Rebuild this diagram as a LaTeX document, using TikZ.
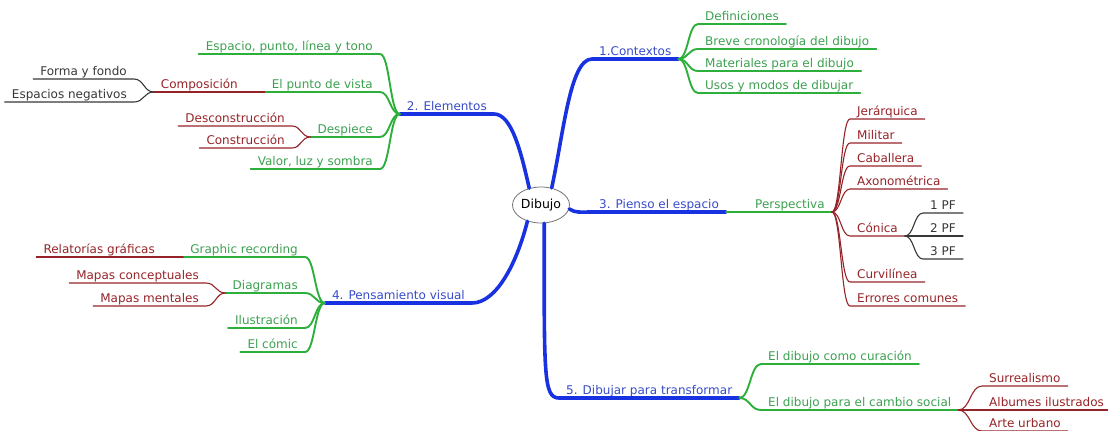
\documentclass[tikz,border=0pt]{standalone}
\usepackage{fontspec}
\setmainfont{DejaVu Sans}
\usetikzlibrary{calc,shapes.geometric}
\definecolor{mapblue}{RGB}{25,50,225}
\definecolor{bluetext}{RGB}{55,75,200}
\definecolor{mapgreen}{RGB}{45,175,60}
\definecolor{greentext}{RGB}{60,160,80}
\definecolor{mapred}{RGB}{150,35,40}
\definecolor{mapgrey}{RGB}{55,55,55}
\begin{document}
\begin{tikzpicture}[x=1bp, y=1bp, line cap=round, line join=round,
  topic/.style={anchor=south west, inner xsep=7bp, inner ysep=0.5bp, text height=9.5bp, text depth=2.5bp, font=\fontsize{12bp}{14bp}\selectfont},
  lside/.style={anchor=south east},
  main/.style={topic, text=bluetext},
  sub/.style={topic, text=greentext},
  leaf/.style={topic, text=mapred},
  tip/.style={topic, text=mapgrey},
  bluline/.style={draw=mapblue, line width=3.6bp},
  grnline/.style={draw=mapgreen, line width=1.9bp},
  redline/.style={draw=mapred, line width=1.1bp},
  greyline/.style={draw=mapgrey, line width=1.1bp},
  forkcurve/.style={to path={.. controls ($(\tikztostart)!0.5!(\tikztotarget|-\tikztostart)$) and ($(\tikztotarget)!0.5!(\tikztostart|-\tikztotarget)$) .. (\tikztotarget)}}]
  \useasboundingbox (0,0) rectangle (1108,-430);
  \node[ellipse, draw=black!55, line width=0.8bp, fill=white, minimum width=57bp, minimum height=36bp, inner sep=0pt, font=\fontsize{12.5bp}{14bp}\selectfont] (root) at (541,-205) {Dibujo};
  \node[main] (ctx) at (592,-59) {1.Contextos};
  \node[sub] (def) at (698,-24) {Definiciones};
  \node[sub] (cron) at (698,-49) {Breve cronología del dibujo};
  \node[sub] (mat) at (698,-71) {Materiales para el dibujo};
  \node[sub] (usos) at (698,-93) {Usos y modos de dibujar};
  \node[main, lside] (elem) at (494,-114) {2. Elementos};
  \node[sub, lside] (esppt) at (380,-54) {Espacio, punto, línea y tono};
  \node[sub, lside] (vista) at (380,-92) {El punto de vista};
  \node[leaf, lside] (comp) at (245,-92) {Composición};
  \node[tip, lside] (forma) at (134,-79) {Forma y fondo};
  \node[tip, lside] (espneg) at (134,-102) {Espacios negativos};
  \node[sub, lside] (desp) at (380,-137) {Despiece};
  \node[leaf, lside] (decon) at (292,-126) {Desconstrucción};
  \node[leaf, lside] (constr) at (292,-148) {Construcción};
  \node[sub, lside] (valor) at (380,-169) {Valor, luz y sombra};
  \node[main] (esp) at (592,-212) {3. Pienso el espacio};
  \node[sub] (persp) at (748,-212) {Perspectiva};
  \node[leaf] (jer) at (850,-119) {Jerárquica};
  \node[leaf] (mil) at (850,-143) {Militar};
  \node[leaf] (cab) at (850,-166) {Caballera};
  \node[leaf] (axo) at (850,-189) {Axonométrica};
  \node[leaf] (con) at (850,-236) {Cónica};
  \node[tip] (pf1) at (923,-213) {1 PF};
  \node[tip] (pf2) at (923,-236) {2 PF};
  \node[tip] (pf3) at (923,-259) {3 PF};
  \node[leaf] (curv) at (850,-282) {Curvilínea};
  \node[leaf] (err) at (850,-306) {Errores comunes};
  \node[main, lside] (pens) at (472,-303) {4. Pensamiento visual};
  \node[sub, lside] (graph) at (305,-257) {Graphic recording};
  \node[leaf, lside] (rel) at (162,-257) {Relatorías gráficas};
  \node[sub, lside] (diag) at (305,-293) {Diagramas};
  \node[leaf, lside] (mconc) at (206,-283) {Mapas conceptuales};
  \node[leaf, lside] (mment) at (206,-306) {Mapas mentales};
  \node[sub, lside] (ilus) at (305,-328) {Ilustración};
  \node[sub, lside] (comic) at (305,-352) {El cómic};
  \node[main] (trans) at (559,-398) {5. Dibujar para transformar};
  \node[sub] (cur) at (761,-364) {El dibujo como curación};
  \node[sub] (soc) at (761,-410) {El dibujo para el cambio social};
  \node[leaf] (sur) at (982,-386) {Surrealismo};
  \node[leaf] (alb) at (982,-410) {Albumes ilustrados};
  \node[leaf] (arte) at (982,-431) {Arte urbano};
  \path[bluline] (root.58) .. controls +(12,55) and +(-22,0) .. (ctx.south west) -- (ctx.south east);
  \path[bluline] (root.125) .. controls +(-8,35) and +(18,0) .. (elem.south east) -- (elem.south west);
  \path[bluline] (root.-8) .. controls +(6,-4) and +(-12,0) .. (esp.south west) -- (esp.south east);
  \path[bluline] (root.230) .. controls +(-10,-40) and +(25,0) .. (pens.south east) -- (pens.south west);
  \path[bluline] (root.-80) .. controls +(0,-150) and +(-16,0) .. (trans.south west) -- (trans.south east);
  \path[grnline] (ctx.south east) to[forkcurve] (def.south west) -- (def.south east);
  \path[grnline] (ctx.south east) to[forkcurve] (cron.south west) -- (cron.south east);
  \path[grnline] (ctx.south east) to[forkcurve] (mat.south west) -- (mat.south east);
  \path[grnline] (ctx.south east) to[forkcurve] (usos.south west) -- (usos.south east);
  \path[grnline] (elem.south west) to[forkcurve] (esppt.south east) -- (esppt.south west);
  \path[grnline] (elem.south west) to[forkcurve] (vista.south east) -- (vista.south west);
  \path[grnline] (elem.south west) to[forkcurve] (desp.south east) -- (desp.south west);
  \path[grnline] (elem.south west) to[forkcurve] (valor.south east) -- (valor.south west);
  \path[redline] (vista.south west) to[forkcurve] (comp.south east) -- (comp.south west);
  \path[greyline] (comp.south west) to[forkcurve] (forma.south east) -- (forma.south west);
  \path[greyline] (comp.south west) to[forkcurve] (espneg.south east) -- (espneg.south west);
  \path[redline] (desp.south west) to[forkcurve] (decon.south east) -- (decon.south west);
  \path[redline] (desp.south west) to[forkcurve] (constr.south east) -- (constr.south west);
  \path[grnline] (esp.south east) to[forkcurve] (persp.south west) -- (persp.south east);
  \path[redline] (persp.south east) to[forkcurve] (jer.south west) -- (jer.south east);
  \path[redline] (persp.south east) to[forkcurve] (mil.south west) -- (mil.south east);
  \path[redline] (persp.south east) to[forkcurve] (cab.south west) -- (cab.south east);
  \path[redline] (persp.south east) to[forkcurve] (axo.south west) -- (axo.south east);
  \path[redline] (persp.south east) to[forkcurve] (con.south west) -- (con.south east);
  \path[redline] (persp.south east) to[forkcurve] (curv.south west) -- (curv.south east);
  \path[redline] (persp.south east) to[forkcurve] (err.south west) -- (err.south east);
  \path[greyline] (con.south east) to[forkcurve] (pf1.south west) -- (pf1.south east);
  \path[greyline] (con.south east) to[forkcurve] (pf2.south west) -- (pf2.south east);
  \path[greyline] (con.south east) to[forkcurve] (pf3.south west) -- (pf3.south east);
  \path[grnline] (pens.south west) to[forkcurve] (graph.south east) -- (graph.south west);
  \path[grnline] (pens.south west) to[forkcurve] (diag.south east) -- (diag.south west);
  \path[grnline] (pens.south west) to[forkcurve] (ilus.south east) -- (ilus.south west);
  \path[grnline] (pens.south west) to[forkcurve] (comic.south east) -- (comic.south west);
  \path[redline] (graph.south west) to[forkcurve] (rel.south east) -- (rel.south west);
  \path[redline] (diag.south west) to[forkcurve] (mconc.south east) -- (mconc.south west);
  \path[redline] (diag.south west) to[forkcurve] (mment.south east) -- (mment.south west);
  \path[grnline] (trans.south east) to[forkcurve] (cur.south west) -- (cur.south east);
  \path[grnline] (trans.south east) to[forkcurve] (soc.south west) -- (soc.south east);
  \path[redline] (soc.south east) to[forkcurve] (sur.south west) -- (sur.south east);
  \path[redline] (soc.south east) to[forkcurve] (alb.south west) -- (alb.south east);
  \path[redline] (soc.south east) to[forkcurve] (arte.south west) -- (arte.south east);
\end{tikzpicture}
\end{document}
